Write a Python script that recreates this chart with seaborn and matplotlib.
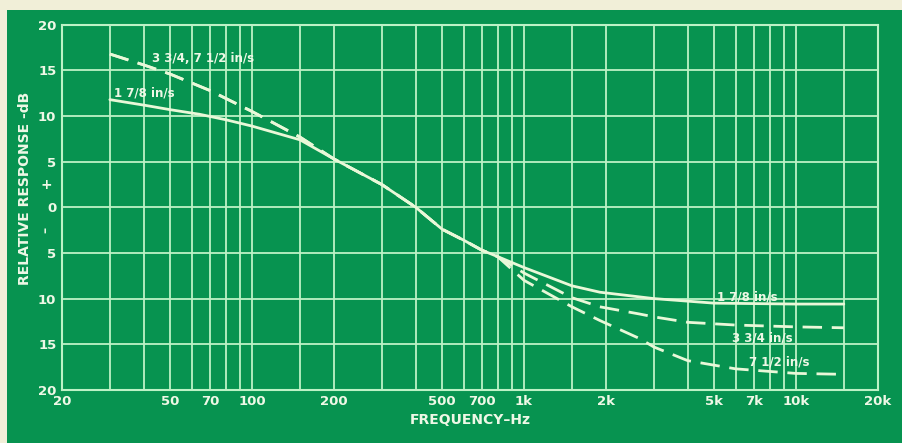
import matplotlib
matplotlib.use('Agg')
import matplotlib.pyplot as plt
from matplotlib.patches import Rectangle
import seaborn as sns
import pandas as pd

# 1 7/8 in/s (solid)
freq_178 = [30, 40, 50, 64, 80, 100, 150, 200, 300, 400, 500, 600, 700, 800,
            1000, 1500, 1900, 3000, 5000, 10000, 15000]
db_178 = [11.8, 11.2, 10.7, 10.2, 9.6, 8.9, 7.4, 5.3, 2.5, 0.0, -2.4, -3.6, -4.7, -5.4,
          -6.6, -8.6, -9.3, -10.0, -10.5, -10.6, -10.6]

# 3 3/4 in/s (dashed)
freq_334 = [30, 40, 50, 70, 100, 150, 200, 300, 400, 500, 600, 700, 800,
            1000, 1500, 1900, 2670, 3000, 4000, 6000, 10000, 15000]
db_334 = [16.8, 15.6, 14.6, 12.8, 10.5, 7.7, 5.3, 2.5, 0.0, -2.4, -3.6, -4.7, -5.4,
          -7.2, -9.9, -10.9, -11.7, -12.0, -12.6, -12.9, -13.1, -13.2]

# 7 1/2 in/s (dashed, same as 3 3/4 below 800 Hz)
freq_712 = [30, 40, 50, 70, 100, 150, 200, 300, 400, 500, 600, 700, 800,
            1000, 1500, 1900, 2670, 3000, 4000, 6000, 10000, 15000]
db_712 = [16.8, 15.6, 14.6, 12.8, 10.5, 7.7, 5.3, 2.5, 0.0, -2.4, -3.6, -4.7, -5.4,
          -8.0, -10.9, -12.4, -14.4, -15.3, -16.8, -17.7, -18.2, -18.3]

grid_freqs = [20, 30, 40, 50, 60, 70, 80, 90, 100, 150, 200, 300, 400, 500, 600,
              700, 800, 900, 1000, 1500, 2000, 3000, 4000, 5000, 6000, 7000, 8000,
              9000, 10000, 15000, 20000]
x_labels = {20: '20', 50: '50', 70: '70', 100: '100', 200: '200', 500: '500',
            700: '700', 1000: '1k', 2000: '2k', 5000: '5k', 7000: '7k',
            10000: '10k', 20000: '20k'}
y_ticks = [20, 15, 10, 5, 0, -5, -10, -15, -20]

BG = '#079350'
GRID = '#bdf2c6'
CURVE = '#e9f8d8'
TEXT = '#eef8e6'

sns.set_style('dark')
plt.rcParams['font.family'] = ['DejaVu Sans']

fig = plt.figure(figsize=(9.02, 4.43), dpi=100, facecolor=BG)
ax = fig.add_axes([0.0687, 0.12, 0.9045, 0.824])
ax.set_facecolor(BG)

# cream scan border
fig.patches.append(Rectangle((0, 0.978), 1, 0.03, transform=fig.transFigure,
                             facecolor='#f1efd8', edgecolor='none', zorder=0))
fig.patches.append(Rectangle((0, 0), 0.008, 1, transform=fig.transFigure,
                             facecolor='#f1efd8', edgecolor='none', zorder=0))

df178 = pd.DataFrame({'f': freq_178, 'db': db_178})
df334 = pd.DataFrame({'f': freq_334, 'db': db_334})
df712 = pd.DataFrame({'f': freq_712, 'db': db_712})

sns.lineplot(data=df178, x='f', y='db', ax=ax, color=CURVE, linewidth=2.0)
sns.lineplot(data=df334, x='f', y='db', ax=ax, color=CURVE, linewidth=2.0,
             dashes=False, linestyle=(0, (7, 3.5)))
sns.lineplot(data=df712, x='f', y='db', ax=ax, color=CURVE, linewidth=2.0,
             dashes=False, linestyle=(0, (7, 3.5)))

ax.set_xscale('log')
ax.set_xlim(20, 20000)
ax.set_ylim(-20, 20)

ax.set_xticks(grid_freqs)
ax.set_xticklabels([x_labels.get(f, '') for f in grid_freqs])
ax.xaxis.set_minor_locator(matplotlib.ticker.NullLocator())
ax.set_yticks(y_ticks)
ax.set_yticklabels([str(abs(v)) for v in y_ticks])
ax.tick_params(axis='both', length=0, colors=TEXT, labelsize=9.5, pad=4)
for lbl in ax.get_xticklabels() + ax.get_yticklabels():
    lbl.set_fontweight('bold')

ax.grid(True, color=GRID, linewidth=1.3)
for s in ax.spines.values():
    s.set_visible(True)
    s.set_color(GRID)
    s.set_linewidth(1.5)

ax.text(-0.012, 0.5625, '+', transform=ax.transAxes, ha='right', va='center',
        color=TEXT, fontsize=10, fontweight='bold')
ax.text(-0.012, 0.4375, '\u2013', transform=ax.transAxes, ha='right', va='center',
        color=TEXT, fontsize=9, fontweight='bold', rotation=90)

ax.set_xlabel('FREQUENCY\u2013Hz', color=TEXT, fontsize=10, fontweight='bold', labelpad=3)
ax.set_ylabel('RELATIVE RESPONSE -dB', color=TEXT, fontsize=10, fontweight='bold',
              labelpad=8)
ax.yaxis.set_label_coords(-0.037, 0.553)

kw = dict(color=TEXT, fontsize=8.5, fontweight='bold', va='center')
ax.text(43, 16.3, '3 3/4, 7 1/2 in/s', ha='left', **kw)
ax.text(31, 12.5, '1 7/8 in/s', ha='left', **kw)
ax.text(6650, -9.8, '1 7/8 in/s', ha='center', **kw)
ax.text(7500, -14.3, '3 3/4 in/s', ha='center', **kw)
ax.text(8700, -17.0, '7 1/2 in/s', ha='center', **kw)

fig.savefig('out.png', dpi=100, facecolor=BG)
